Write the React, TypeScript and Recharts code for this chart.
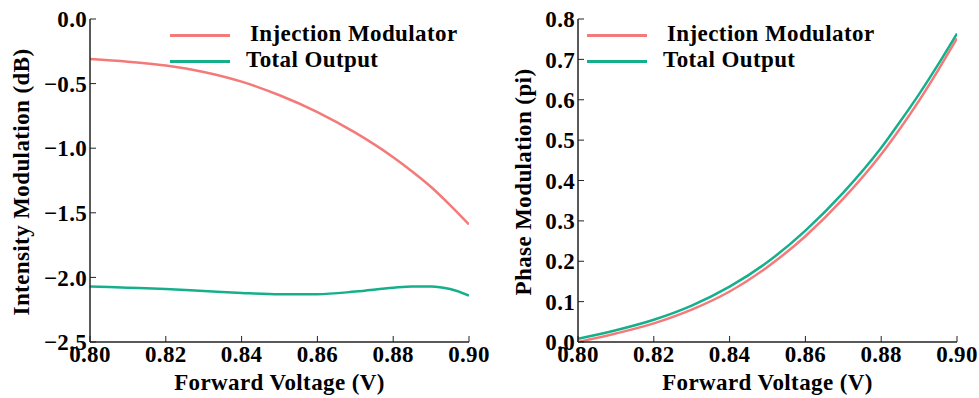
import { LineChart, Line, XAxis, YAxis } from "recharts"

const VOLTAGE = [0.8, 0.81, 0.82, 0.83, 0.84, 0.85, 0.86, 0.87, 0.88, 0.885, 0.89, 0.895, 0.9]

const INTENSITY_INJECTION = [-0.31, -0.33, -0.36, -0.41, -0.485, -0.59, -0.72, -0.88, -1.07, -1.18, -1.3, -1.44, -1.59]
const INTENSITY_TOTAL = [-2.07, -2.08, -2.09, -2.105, -2.12, -2.13, -2.13, -2.11, -2.08, -2.07, -2.07, -2.09, -2.14]

const PHASE_INJECTION = [0.0, 0.021, 0.046, 0.08, 0.125, 0.186, 0.262, 0.355, 0.465, 0.529, 0.598, 0.673, 0.752]
const PHASE_TOTAL = [0.008, 0.029, 0.055, 0.09, 0.137, 0.198, 0.276, 0.37, 0.481, 0.546, 0.614, 0.687, 0.764]

const X_TICKS = [0.8, 0.82, 0.84, 0.86, 0.88, 0.9]
const INTENSITY_TICKS = [0, -0.5, -1, -1.5, -2, -2.5]
const PHASE_TICKS = [0, 0.1, 0.2, 0.3, 0.4, 0.5, 0.6, 0.7, 0.8]

const RED = "#f47a7a"
const GREEN = "#15b08b"
const SPINE = "#222"
const FONT = "Liberation Serif, Times New Roman, serif"

const intensityData = VOLTAGE.map((v, i) => ({
  v,
  injection: INTENSITY_INJECTION[i],
  total: INTENSITY_TOTAL[i],
}))

const phaseData = VOLTAGE.map((v, i) => ({
  v,
  injection: PHASE_INJECTION[i],
  total: PHASE_TOTAL[i],
}))

const tickStyle = { fill: "#000", fontSize: 23, fontWeight: 700, fontFamily: FONT, letterSpacing: 0.3 }

const titleStyle = {
  fontFamily: FONT,
  fontWeight: 700,
  fontSize: 23,
  letterSpacing: 0.4,
  whiteSpace: "nowrap" as const,
}

function Legend({ left, textLeft }: { left: number; textLeft: number }) {
  const items = [
    { name: "Injection Modulator", color: RED, y: 35, dx: 4 },
    { name: "Total Output", color: GREEN, y: 61, dx: 0 },
  ]
  return (
    <>
      {items.map((it) => (
        <div key={it.name}>
          <div
            style={{
              position: "absolute",
              left,
              top: it.y - 1.5,
              width: 60,
              height: 3,
              background: it.color,
            }}
          />
          <div style={{ ...titleStyle, position: "absolute", left: textLeft + it.dx, top: it.y - 14, lineHeight: "26px" }}>
            {it.name}
          </div>
        </div>
      ))}
    </>
  )
}

function Panel({
  data,
  width,
  yWidth,
  right,
  domain,
  yTicks,
  yLabel,
  yFormat,
  labelX,
}: {
  data: any[]
  width: number
  yWidth: number
  right: number
  domain: [number, number]
  yTicks: number[]
  yLabel: string
  yFormat: (v: number) => string
  labelX: number
}) {
  const plotW = width - yWidth - right
  return (
    <div style={{ position: "relative", width, height: 398 }}>
      <LineChart width={width} height={398} data={data} margin={{ top: 19, right, bottom: 0, left: 0 }}>
        <XAxis
          xAxisId="b"
          dataKey="v"
          type="number"
          domain={[0.8, 0.9]}
          ticks={X_TICKS}
          allowDataOverflow
          height={56}
          tickSize={-6}
          tickMargin={10}
          tickFormatter={(v) => Number(v).toFixed(2)}
          tick={tickStyle}
          axisLine={{ stroke: SPINE, strokeWidth: 1.5 }}
          tickLine={{ stroke: SPINE }}
        />
        <XAxis
          xAxisId="t"
          orientation="top"
          dataKey="v"
          type="number"
          domain={[0.8, 0.9]}
          ticks={X_TICKS}
          allowDataOverflow
          height={0}
          tickSize={-6}
          tick={false}
          axisLine={{ stroke: SPINE, strokeWidth: 1.5 }}
          tickLine={{ stroke: SPINE }}
        />
        <YAxis
          yAxisId="l"
          type="number"
          domain={domain}
          ticks={yTicks}
          allowDataOverflow
          width={yWidth}
          tickSize={-6}
          tickMargin={9}
          tickFormatter={yFormat}
          tick={tickStyle}
          axisLine={{ stroke: SPINE, strokeWidth: 1.5 }}
          tickLine={{ stroke: SPINE }}
        />
        <YAxis
          yAxisId="r"
          orientation="right"
          type="number"
          domain={domain}
          ticks={yTicks}
          allowDataOverflow
          width={0}
          tickSize={-6}
          tick={false}
          axisLine={{ stroke: SPINE, strokeWidth: 1.5 }}
          tickLine={{ stroke: SPINE }}
        />
        <Line
          xAxisId="b"
          yAxisId="l"
          type="monotone"
          dataKey="injection"
          stroke={RED}
          strokeWidth={2.5}
          dot={false}
          isAnimationActive={false}
        />
        <Line
          xAxisId="b"
          yAxisId="l"
          type="monotone"
          dataKey="total"
          stroke={GREEN}
          strokeWidth={2.5}
          dot={false}
          isAnimationActive={false}
        />
      </LineChart>
      <div
        style={{
          ...titleStyle,
          position: "absolute",
          left: labelX,
          top: 182,
          transform: "translate(-50%, -50%) rotate(-90deg)",
        }}
      >
        {yLabel}
      </div>
      <div
        style={{
          ...titleStyle,
          position: "absolute",
          left: yWidth + plotW / 2,
          top: 383,
          transform: "translate(-50%, -50%)",
        }}
      >
        Forward Voltage (V)
      </div>
    </div>
  )
}

export default function App() {
  return (
    <div style={{ position: "absolute", left: 0, top: 0, width: 979, height: 398, background: "#fff" }}>
      <div style={{ position: "absolute", left: 0, top: 0 }}>
        <Panel
          data={intensityData}
          width={490}
          yWidth={90}
          right={21}
          domain={[-2.5, 0]}
          yTicks={INTENSITY_TICKS}
          yLabel="Intensity Modulation (dB)"
          yFormat={(v) => (v < 0 ? "\u2212" + Math.abs(v).toFixed(1) : v.toFixed(1))}
          labelX={22}
        />
      </div>
      <div style={{ position: "absolute", left: 490, top: 0 }}>
        <Panel
          data={phaseData}
          width={489}
          yWidth={88}
          right={22}
          domain={[0, 0.8]}
          yTicks={PHASE_TICKS}
          yLabel="Phase Modulation (pi)"
          yFormat={(v) => v.toFixed(1)}
          labelX={34}
        />
      </div>
      <Legend left={170} textLeft={246} />
      <Legend left={587} textLeft={663} />
    </div>
  )
}
